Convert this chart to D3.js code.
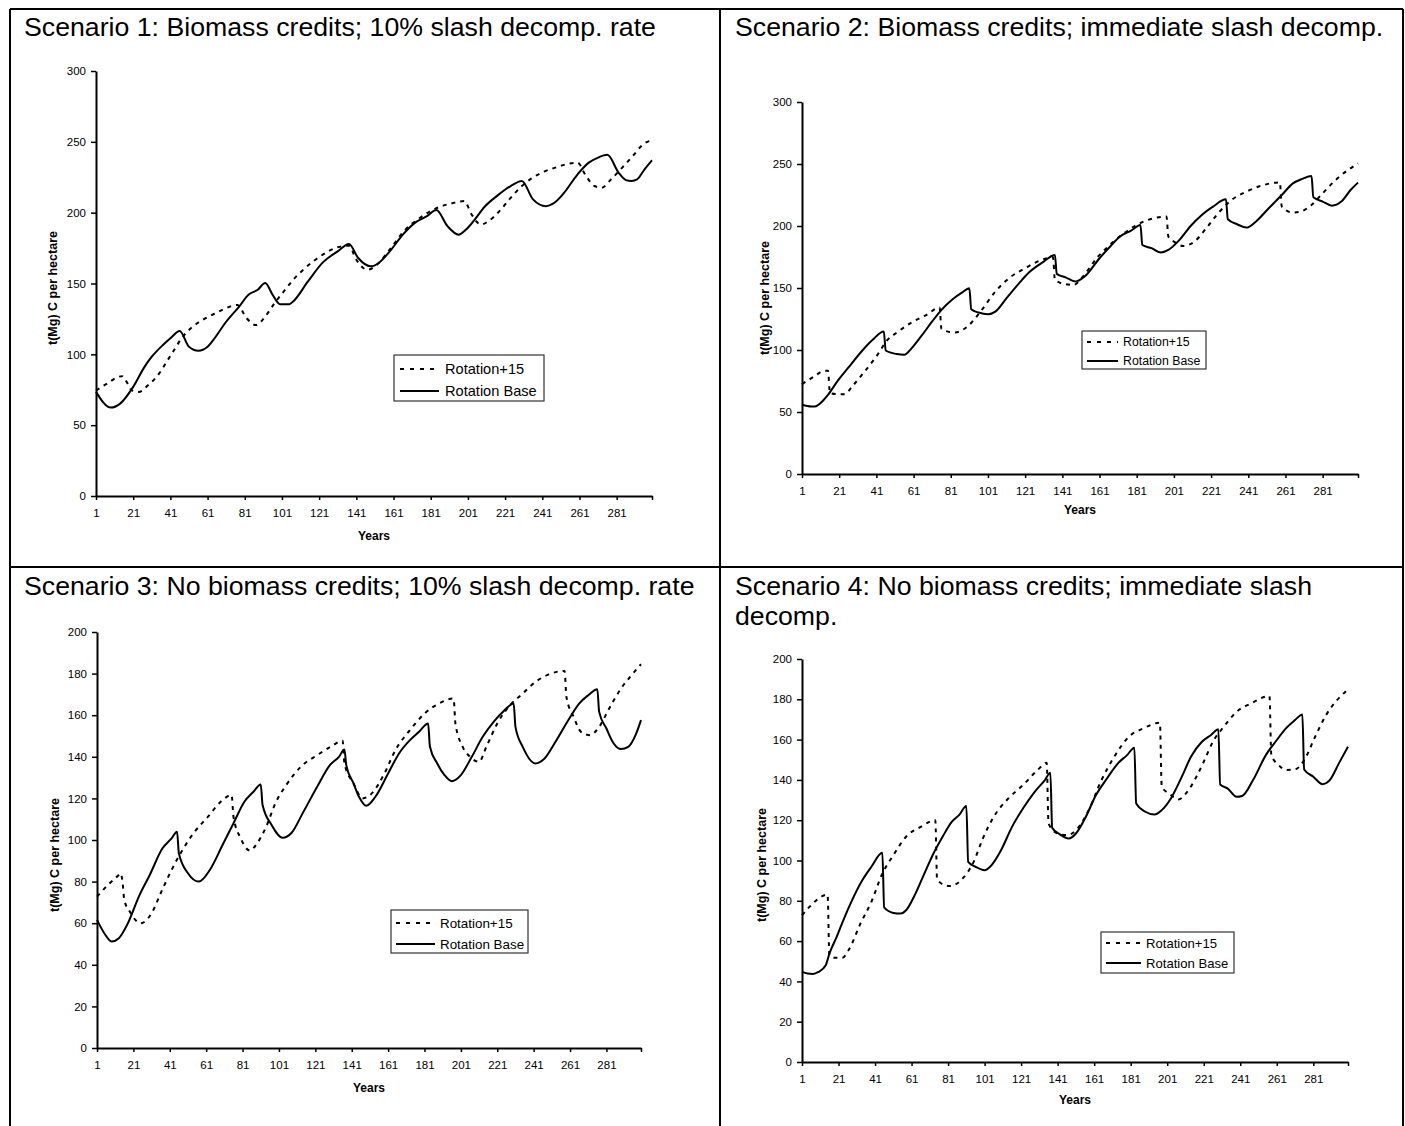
<!DOCTYPE html>
<html>
<head>
<meta charset="utf-8">
<script src="https://cdn.jsdelivr.net/npm/d3@7"></script>
<style>
  html, body { margin: 0; padding: 0; background: #fff; }
  svg { display: block; }
  text { font-family: "Liberation Sans", Arial, Helvetica, sans-serif; fill: #000; }
</style>
</head>
<body>
<script>
// ---- Data: carbon stock, t(Mg) C per hectare, by year ----
const yearTicks = [1, 21, 41, 61, 81, 101, 121, 141, 161, 181, 201, 221, 241, 261, 281];
const yTicksWithCredits = [0, 50, 100, 150, 200, 250, 300];
const yTicksNoCredits = [0, 20, 40, 60, 80, 100, 120, 140, 160, 180, 200];
const seriesNames = ["Rotation+15", "Rotation Base"];
const scenarioTitles = [
  ["Scenario 1: Biomass credits; 10% slash decomp. rate"],
  ["Scenario 2: Biomass credits; immediate slash decomp."],
  ["Scenario 3: No biomass credits; 10% slash decomp. rate"],
  ["Scenario 4: No biomass credits; immediate slash", "decomp."]
];

// Scenario 1
const s1Plus15 = [[1,74.5],[7,79.4],[13,84.1],[15,84.6],[18,79.4],[20,74.7],[24,73.5],[29,78.2],[35,86.5],[39,94.8],[43,103],[47,111.3],[52,118.4],[59,124.8],[66,129.5],[73,133.7],[77,134.9],[82,125.5],[87,120.7],[92,126.7],[97,136.1],[102,144.4],[107,152.6],[113,160.4],[119,166.8],[125,172],[131,175.6],[137,176.7],[141,166.8],[147,159.7],[151,162.1],[159,174],[167,187.6],[174,195.2],[180,200.4],[186,204.2],[192,206.5],[199,208.2],[203,198.7],[208,191.6],[212,194],[218,201.1],[224,210.5],[230,218.8],[235,224],[242,229],[248,231.8],[254,234.2],[260,235.3],[264,227.1],[269,218.8],[273,217.6],[278,223.5],[284,231.8],[290,240.5],[296,249],[300,251]];
const s1Base = [[1,73.5],[9,62.4],[14,65.2],[21,77],[27,91],[31,98.3],[37,106.6],[41,111.3],[46,116.5],[51,105.4],[56,102.6],[61,105.4],[64,110],[71,123],[78,133.7],[83,142],[88,145.6],[92,150.3],[96,142],[100,135.4],[105,135.4],[107,137.3],[115,151.5],[123,164.9],[131,172.7],[137,177.9],[142,168],[149,162.1],[153,164.5],[159,172.7],[166,184.5],[173,193.3],[179,197.5],[184,201.8],[190,190.5],[196,184.5],[200,188.1],[204,194],[210,204.2],[217,212.2],[224,218.8],[230,222.4],[236,209.4],[243,204.6],[247,206.5],[252,212.9],[260,227.1],[266,235.3],[271,238.9],[276,240.8],[282,228.3],[286,223],[289,222.4],[292,223.5],[296,230.6],[300,237]];

// Scenario 2
const s2Plus15 = [[1,72.5],[7,78.1],[13,83.2],[15,83.2],[16,65.3],[20,64.4],[24,64.4],[28,70.6],[34,81.4],[41,94.8],[47,108.2],[52,114.1],[60,122.2],[68,128.4],[75,134.3],[76,116.8],[83,114.1],[90,119],[97,131],[105,147.2],[113,158.7],[121,166],[129,172.1],[136,174.8],[137,156.5],[142,153.3],[147,152.5],[152,159.2],[160,175],[166,184],[173,192.8],[180,200],[187,204.9],[192,206.8],[197,207.6],[198,191.5],[201,187.4],[206,183.9],[212,187.4],[218,197.4],[224,208.9],[232,221],[240,227.7],[248,232.5],[258,235.2],[259,215.6],[265,210.8],[270,212.1],[275,217],[281,226.4],[289,238.5],[300,250.5]];
const s2Base = [[1,55.9],[6,54.5],[8,54.5],[11,57.2],[15,63.9],[20,74.7],[26,85.9],[33,98.8],[39,108.2],[45,114.9],[46,99.6],[52,96.7],[56,96.1],[60,101.5],[65,110.9],[71,123],[76,132.4],[82,141],[87,146.3],[91,149.8],[92,132.9],[96,130.2],[101,128.9],[105,131],[111,141.8],[117,152.5],[123,162.5],[131,171.3],[137,176.7],[138,161.4],[143,158.4],[148,155.2],[153,159.2],[161,174],[167,183.9],[172,191.5],[178,196.3],[183,200.9],[184,184.7],[189,182.1],[194,178.6],[198,180.7],[204,188.8],[210,200],[216,208.9],[222,215.6],[229,221.5],[230,205.4],[235,201.4],[240,198.7],[245,203.5],[252,214.3],[259,225],[265,234.4],[270,238],[275,240.3],[276,223.1],[281,219.7],[286,216.4],[291,219.7],[296,229],[300,235]];

// Scenario 3
const s3Plus15 = [[1,72.8],[7,78.4],[13,83.2],[14,84],[15,80],[16,71.2],[19,65.6],[25,60],[31,64.8],[36,74.4],[42,85.6],[48,95.2],[54,103.2],[62,111.2],[69,118.4],[75,121.6],[76,111.2],[80,100.8],[85,94.9],[89,98.4],[94,106.4],[99,117.6],[105,126.4],[113,135.2],[122,140.8],[130,145.1],[136,147.7],[137,136.8],[142,127.2],[147,120],[152,122.4],[159,132],[165,143.2],[173,152.8],[181,160.8],[189,165.6],[197,168],[198,156],[202,144.8],[206,140],[211,137.6],[215,144.8],[221,156],[228,164.8],[235,170.4],[242,176],[249,179.5],[258,181.3],[259,168.8],[263,159.2],[267,152],[272,150.4],[277,154.4],[283,164],[289,172.8],[294,178.4],[300,184.5]];
const s3Base = [[1,61.6],[5,55.2],[9,51.2],[13,52.8],[18,60],[24,72.8],[30,83.2],[37,96],[42,100.8],[45,104],[46,93.6],[51,84],[57,80],[63,85.6],[70,97.6],[76,108],[82,118.4],[87,123.2],[91,126.7],[92,116.8],[97,107.2],[103,101.1],[108,103.5],[114,112.8],[122,125.6],[129,136],[134,140],[137,143.5],[138,136],[142,127.2],[145,120.8],[149,116.5],[154,120.8],[161,132],[167,141.6],[173,148],[178,152],[183,156],[184,144.8],[188,136.8],[192,131.2],[196,128.3],[201,131.2],[207,140],[213,149.6],[219,156.8],[225,162.4],[230,165.6],[231,154.4],[235,144.8],[242,136.8],[247,139.2],[253,147.2],[260,157.6],[266,165.6],[271,169.6],[276,172.5],[277,161.6],[281,153.6],[285,146.4],[289,143.7],[293,144.8],[297,150.4],[300,157.6]];

// Scenario 4
const s4Plus15 = [[1,72.8],[6,77.8],[12,82.3],[15,83.1],[16,53],[19,51.7],[23,51.7],[27,56.3],[33,68.7],[39,79.5],[45,93.5],[51,102.6],[58,111.8],[66,116.7],[74,120],[75,90.2],[82,87.3],[89,91.1],[95,99.3],[100,110.9],[106,121.7],[114,130.8],[122,137.4],[130,144.9],[135,148.5],[136,118.4],[141,113.4],[146,112.6],[151,115],[158,125],[165,139.9],[172,151.5],[180,161.4],[188,165.6],[197,168.4],[198,136.6],[202,133.3],[207,130.3],[212,134.1],[217,141.6],[221,149],[226,158.9],[232,166.4],[239,173.8],[247,178],[257,181.6],[258,152.3],[262,147.4],[266,144.9],[271,145.2],[276,149.8],[282,161.4],[288,172.2],[294,179.6],[300,184.9]];
const s4Base = [[1,44.7],[4,43.9],[7,43.7],[10,44.7],[14,48],[16,53.8],[20,62.1],[24,71.2],[28,79.5],[34,90.2],[39,96.9],[45,103.8],[46,76.7],[51,74],[55,73.7],[58,75.3],[63,83.3],[68,93.5],[73,103.5],[78,111.8],[83,119.2],[87,122.5],[91,127],[92,99.3],[96,96.9],[101,95.2],[104,96.9],[110,105.1],[116,116.7],[122,125.8],[128,133.6],[134,139.9],[137,143.5],[138,116.2],[142,113.1],[147,110.9],[151,113.4],[156,120.9],[162,132.5],[168,140.7],[174,148.2],[179,152.3],[183,156],[184,128.3],[189,124.2],[194,122.8],[198,125],[203,130.8],[209,141.6],[214,151.5],[220,158.9],[225,162.3],[229,165.1],[230,137.7],[234,135.8],[239,131.6],[242,132],[248,139.9],[255,152.3],[261,159.8],[266,165.6],[271,169.7],[275,172.5],[276,145.2],[281,141.6],[286,137.9],[290,139.9],[295,148.2],[300,156.5]];

// ---- Panel layout (pixel geometry of each chart) ----
const panels = [
  { title: scenarioTitles[0], titleX: 24, titleY: 36, plus15: s1Plus15, base: s1Base,
    x0: 96, x1: 652, yBottom: 496, yTop: 71, yMax: 300, yTicks: yTicksWithCredits,
    yLabelX: 53, yLabelY: 288, xLabelY: 536,
    legend: { x: 394, y: 355, w: 150, h: 46, row1: 369, row2: 391, lx0: 400, lx1: 439, tx: 445, fs: 14.6 } },
  { title: scenarioTitles[1], titleX: 735, titleY: 36, plus15: s2Plus15, base: s2Base,
    x0: 802, x1: 1358, yBottom: 474, yTop: 102, yMax: 300, yTicks: yTicksWithCredits,
    yLabelX: 765, yLabelY: 298, xLabelY: 510,
    legend: { x: 1082, y: 331, w: 124, h: 38, row1: 342, row2: 361, lx0: 1087, lx1: 1118, tx: 1123, fs: 12.3 } },
  { title: scenarioTitles[2], titleX: 24, titleY: 595, plus15: s3Plus15, base: s3Base,
    x0: 97, x1: 641, yBottom: 1048, yTop: 632, yMax: 200, yTicks: yTicksNoCredits,
    yLabelX: 55, yLabelY: 855, xLabelY: 1088,
    legend: { x: 391, y: 910, w: 137, h: 43, row1: 923, row2: 944, lx0: 396, lx1: 435, tx: 440, fs: 13.4 } },
  { title: scenarioTitles[3], titleX: 735, titleY: 595, plus15: s4Plus15, base: s4Base,
    x0: 802, x1: 1348, yBottom: 1062, yTop: 659, yMax: 200, yTicks: yTicksNoCredits,
    yLabelX: 762, yLabelY: 865, xLabelY: 1100,
    legend: { x: 1101, y: 932, w: 133, h: 41, row1: 943, row2: 963, lx0: 1106, lx1: 1141, tx: 1146, fs: 13.1 } }
];

const W = 1405, H = 1126;
const svg = d3.select("body").append("svg").attr("width", W).attr("height", H);
svg.append("rect").attr("width", W).attr("height", H).attr("fill", "#fff");

// Table frame around the four scenario cells
const frame = svg.append("g").attr("stroke", "#000").attr("stroke-width", 2);
[[10, 9, 1403, 9], [10, 567, 1403, 567], [10, 9, 10, H], [720, 9, 720, H], [1403, 9, 1403, H]]
  .forEach(([a, b, c, d]) => frame.append("line").attr("x1", a).attr("y1", b).attr("x2", c).attr("y2", d));

const DASH = "4,5";

panels.forEach(p => {
  const g = svg.append("g");

  // Cell title (wraps onto a second line where needed)
  p.title.forEach((line, i) => {
    g.append("text").attr("x", p.titleX).attr("y", p.titleY + i * 30)
      .attr("font-size", 26.7).text(line);
  });

  const x = d3.scaleLinear().domain([1, 300]).range([p.x0, p.x1]);
  const y = d3.scaleLinear().domain([0, p.yMax]).range([p.yBottom, p.yTop]);

  // Axes
  const xAxis = d3.axisBottom(x)
    .tickValues(yearTicks.concat([300]))
    .tickFormat(d => d === 300 ? "" : d)
    .tickSize(4).tickSizeOuter(0).tickPadding(9);
  const yAxis = d3.axisLeft(y)
    .tickValues(p.yTicks).tickFormat(d3.format("d"))
    .tickSize(5).tickSizeOuter(0).tickPadding(5);

  const gx = g.append("g").attr("transform", `translate(0,${p.yBottom})`).call(xAxis);
  const gy = g.append("g").attr("transform", `translate(${p.x0},0)`).call(yAxis);
  [gx, gy].forEach(a => {
    a.select(".domain").attr("stroke", "#000").attr("stroke-width", 2);
    a.selectAll(".tick line").attr("stroke", "#000").attr("stroke-width", 1.5);
    a.selectAll(".tick text").attr("font-size", 11.5)
      .attr("font-family", '"Liberation Sans", Arial, sans-serif').attr("fill", "#000");
  });

  // Axis titles
  g.append("text").attr("x", (p.x0 + p.x1) / 2).attr("y", p.xLabelY).attr("dy", "0.35em")
    .attr("text-anchor", "middle").attr("font-size", 12).attr("font-weight", "bold").text("Years");
  g.append("text")
    .attr("transform", `translate(${p.yLabelX},${p.yLabelY}) rotate(-90)`)
    .attr("dy", "0.35em").attr("text-anchor", "middle")
    .attr("font-size", 12.5).attr("font-weight", "bold").text("t(Mg) C per hectare");

  // Series lines
  const line = d3.line().x(d => x(d[0])).y(d => y(d[1])).curve(d3.curveMonotoneX);
  g.append("path").datum(p.plus15).attr("d", line)
    .attr("fill", "none").attr("stroke", "#000").attr("stroke-width", 2)
    .attr("stroke-dasharray", DASH);
  g.append("path").datum(p.base).attr("d", line)
    .attr("fill", "none").attr("stroke", "#000").attr("stroke-width", 2);

  // Legend
  const L = p.legend;
  const lg = g.append("g");
  lg.append("rect").attr("x", L.x).attr("y", L.y).attr("width", L.w).attr("height", L.h)
    .attr("fill", "#fff").attr("stroke", "#333").attr("stroke-width", 1.2);
  [[L.row1, DASH], [L.row2, null]].forEach(([ry, dash], i) => {
    const ln = lg.append("line").attr("x1", L.lx0).attr("x2", L.lx1).attr("y1", ry).attr("y2", ry)
      .attr("stroke", "#000").attr("stroke-width", 2);
    if (dash) ln.attr("stroke-dasharray", "4,6");
    lg.append("text").attr("x", L.tx).attr("y", ry).attr("dy", "0.35em")
      .attr("font-size", L.fs).text(seriesNames[i]);
  });
});
</script>
</body>
</html>
